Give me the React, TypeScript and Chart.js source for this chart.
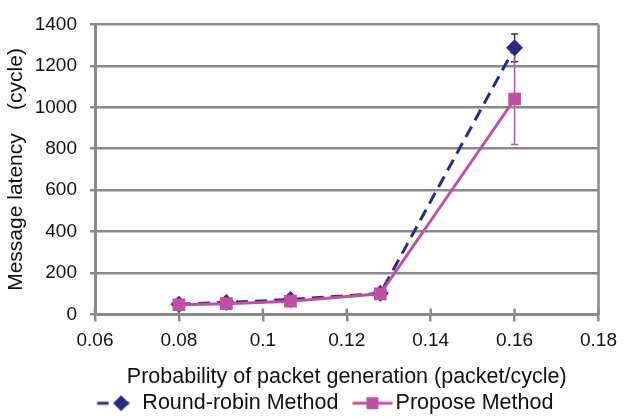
import React, { useEffect, useRef } from "react";
import { Chart, registerables } from "chart.js";

Chart.register(...registerables);

// ---- data ----
const xValues = [0.08, 0.0913, 0.1066, 0.128, 0.16];
const roundRobinValues = [50, 58, 72, 102, 1287];
const proposeValues = [47, 52, 64, 100, 1040];
const roundRobinErrLow = [null, null, null, null, 1220];
const roundRobinErrHigh = [null, null, null, null, 1354];
const proposeErrLow = [null, null, null, null, 820];
const proposeErrHigh = [null, null, null, null, 1262];
const seriesNames = ["Round-robin Method", "Propose Method"];
const xAxisTitle = "Probability of packet generation (packet/cycle)";
const yAxisTitle = "Message latency    (cycle)";

const NAVY = "#2A2C83";
const PINK = "#C150A5";
const GRID = "#8A8A8A";
const TEXT = "#111111";
const FONT = "'Liberation Sans', Arial, sans-serif";

function makeLegendIcon(kind: "rr" | "pp"): HTMLCanvasElement {
  const c = document.createElement("canvas");
  const h = 20;
  const g = (cv: HTMLCanvasElement) => cv.getContext("2d")!;
  if (kind === "rr") {
    c.width = 40;
    c.height = h;
    const ctx = g(c);
    ctx.lineWidth = 3;
    ctx.strokeStyle = NAVY;
    ctx.beginPath();
    ctx.moveTo(5.5, h / 2);
    ctx.lineTo(17, h / 2);
    ctx.moveTo(24, h / 2);
    ctx.lineTo(37.5, h / 2);
    ctx.stroke();
    ctx.fillStyle = NAVY;
    const cx = 29.5;
    const r = 8;
    ctx.beginPath();
    ctx.moveTo(cx, h / 2 - r);
    ctx.lineTo(cx + r, h / 2);
    ctx.lineTo(cx, h / 2 + r);
    ctx.lineTo(cx - r, h / 2);
    ctx.closePath();
    ctx.fill();
  } else {
    c.width = 56;
    c.height = h;
    const ctx = g(c);
    ctx.lineWidth = 3;
    ctx.strokeStyle = PINK;
    ctx.beginPath();
    ctx.moveTo(15.5, h / 2);
    ctx.lineTo(55.5, h / 2);
    ctx.stroke();
    ctx.fillStyle = PINK;
    const s = 12;
    ctx.fillRect(35.5 - s / 2, h / 2 - s / 2, s, s);
  }
  return c;
}

const extrasPlugin = {
  id: "extras",
  afterLayout(chart: any) {
    const lg = chart.legend;
    if (lg) {
      lg.left += 20;
      lg.right += 20;
    }
  },
  beforeDatasetsDraw(chart: any) {
    const { ctx, chartArea, scales } = chart;
    const x = scales.x;
    const y = scales.y;
    ctx.save();
    ctx.strokeStyle = GRID;
    ctx.lineWidth = 2.5;
    ctx.beginPath();
    ctx.moveTo(chartArea.right, chartArea.top);
    ctx.lineTo(chartArea.right, chartArea.bottom);
    ctx.stroke();
    x.ticks.forEach((t: any) => {
      const px = x.getPixelForValue(t.value);
      ctx.beginPath();
      ctx.moveTo(px, chartArea.bottom - 6);
      ctx.lineTo(px, chartArea.bottom);
      ctx.stroke();
    });
    chart.data.datasets.forEach((ds: any) => {
      if (!ds.errLow) return;
      ds.data.forEach((pt: any, i: number) => {
        const lo = ds.errLow[i];
        const hi = ds.errHigh[i];
        if (lo == null || hi == null) return;
        const px = x.getPixelForValue(pt.x);
        const pLo = y.getPixelForValue(lo);
        const pHi = y.getPixelForValue(hi);
        ctx.strokeStyle = ds.errColor;
        ctx.lineWidth = 1.5;
        ctx.beginPath();
        ctx.moveTo(px, pLo);
        ctx.lineTo(px, pHi);
        ctx.stroke();
        ctx.strokeStyle = ds.errCapColor;
        ctx.beginPath();
        ctx.moveTo(px - 3.5, pLo);
        ctx.lineTo(px + 3.5, pLo);
        ctx.moveTo(px - 3.5, pHi);
        ctx.lineTo(px + 3.5, pHi);
        ctx.stroke();
      });
    });
    ctx.restore();
  },
};

export default function App() {
  const ref = useRef<HTMLCanvasElement | null>(null);

  useEffect(() => {
    document.body.style.margin = "0";
    document.body.style.overflow = "hidden";
    document.documentElement.style.overflow = "hidden";
    const canvas = ref.current!;
    const rrIcon = makeLegendIcon("rr");
    const ppIcon = makeLegendIcon("pp");
    const chart = new Chart(canvas, {
      type: "line",
      data: {
        datasets: [
          {
            label: seriesNames[0],
            data: xValues.map((v, i) => ({ x: v, y: roundRobinValues[i] })),
            borderColor: NAVY,
            backgroundColor: NAVY,
            borderWidth: 3,
            borderDash: [12, 7],
            pointStyle: "rectRot",
            pointRadius: 8.5,
            pointBorderWidth: 0,
            order: 1,
            errLow: roundRobinErrLow,
            errHigh: roundRobinErrHigh,
            errColor: NAVY,
            errCapColor: "#333333",
          } as any,
          {
            label: seriesNames[1],
            data: xValues.map((v, i) => ({ x: v, y: proposeValues[i] })),
            borderColor: PINK,
            backgroundColor: PINK,
            borderWidth: 3,
            pointStyle: "rect",
            pointRadius: 9,
            pointBorderWidth: 0,
            order: 0,
            errLow: proposeErrLow,
            errHigh: proposeErrHigh,
            errColor: PINK,
            errCapColor: PINK,
          } as any,
        ],
      },
      options: {
        animation: false,
        responsive: false,
        devicePixelRatio: 1,
        layout: { padding: { left: 0, right: 20, top: 13, bottom: 0 } },
        plugins: {
          tooltip: { enabled: false },
          legend: {
            position: "bottom",
            labels: {
              usePointStyle: true,
              pointStyleWidth: 40,
              padding: 6.5,
              color: TEXT,
              font: { family: FONT, size: 21.5 },
              generateLabels: (ch: any) =>
                ch.data.datasets.map((ds: any, i: number) => ({
                  text: ds.label,
                  pointStyle: i === 0 ? rrIcon : ppIcon,
                  fillStyle: ds.borderColor,
                  strokeStyle: ds.borderColor,
                  lineWidth: 0,
                  datasetIndex: i,
                  hidden: false,
                  fontColor: TEXT,
                })),
            },
          },
        },
        scales: {
          x: {
            type: "linear",
            min: 0.06,
            max: 0.18,
            afterFit: (s: any) => {
              s.height = 71.5;
            },
            ticks: {
              stepSize: 0.02,
              padding: 8,
              color: TEXT,
              font: { family: FONT, size: 19 },
              callback: (v: any) => Number(Number(v).toFixed(2)).toString(),
            },
            grid: {
              drawOnChartArea: false,
              color: GRID,
              lineWidth: 2.5,
              tickLength: 7,
            },
            border: { color: GRID, width: 3 },
            title: {
              display: true,
              text: xAxisTitle,
              color: TEXT,
              font: { family: FONT, size: 21.5 },
              padding: { top: 0, bottom: -4 },
            },
          },
          y: {
            min: 0,
            max: 1400,
            afterFit: (s: any) => {
              s.width = 95;
            },
            ticks: {
              stepSize: 200,
              padding: 13,
              color: TEXT,
              font: { family: FONT, size: 19 },
              callback: (v: any) => String(Math.round(Number(v))),
            },
            grid: {
              color: GRID,
              lineWidth: 2.5,
              tickLength: 5,
            },
            border: { color: GRID, width: 3 },
            title: {
              display: true,
              text: yAxisTitle,
              color: TEXT,
              font: { family: FONT, size: 21 },
              padding: { top: 4, bottom: 0 },
            },
          },
        },
      },
      plugins: [extrasPlugin],
    });
    return () => chart.destroy();
  }, []);

  return (
    <div style={{ width: 625, height: 424 }}>
      <canvas ref={ref} width={625} height={424} style={{ display: "block" }} />
    </div>
  );
}
